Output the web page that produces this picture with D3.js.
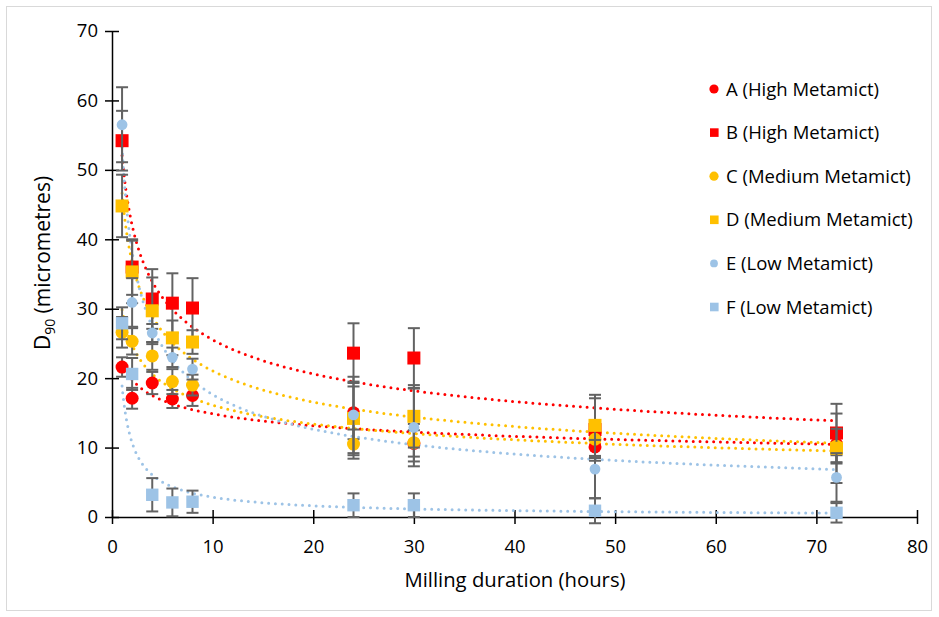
<!DOCTYPE html>
<html><head><meta charset="utf-8">
<script src="https://cdn.jsdelivr.net/npm/d3@7"></script>
<style>body{margin:0;background:#fff}svg{display:block}</style>
</head><body>
<svg id="c" width="939" height="617"></svg>
<script>
const hours = [1, 2, 4, 6, 8, 24, 30, 48, 72];
const seriesNames = ["A (High Metamict)", "B (High Metamict)", "C (Medium Metamict)", "D (Medium Metamict)", "E (Low Metamict)", "F (Low Metamict)"];
const valuesA = [21.6, 17.1, 19.3, 17.0, 17.5, 15.0, 10.6, 10.1, 10.5];
const valuesB = [54.2, 36.0, 31.4, 30.8, 30.1, 23.6, 22.9, 12.6, 12.1];
const valuesC = [26.6, 25.3, 23.2, 19.5, 19.0, 10.5, 10.7, 11.2, 10.2];
const valuesD = [44.8, 35.3, 29.7, 25.8, 25.2, 14.2, 14.5, 13.2, 9.9];
const valuesE = [56.5, 30.9, 26.5, 23.0, 21.3, 14.7, 12.9, 6.9, 5.7];
const valuesF = [27.9, 20.6, 3.2, 2.1, 2.2, 1.7, 1.7, 0.9, 0.6];
const errA = [1.4, 1.5, 1.6, 1.3, 1.5, 3.8, 1.9, 1.6, 1.6];
const errB = [4.3, 4.0, 4.3, 4.3, 4.3, 4.3, 4.3, 4.5, 4.2];
const errC = [2.2, 1.9, 2.0, 1.8, 1.5, 2.1, 2.7, 2.6, 2.5];
const errD = [4.5, 4.5, 4.8, 2.5, 1.7, 5.3, 4.5, 4.4, 5.0];
const errE = [5.4, 3.5, 1.3, 1.4, 1.5, 5.5, 5.6, 4.2, 3.5];
const errF = [2.3, 2.3, 2.4, 2.0, 1.6, 1.7, 1.7, 1.8, 1.4];
const xTicks = [0, 10, 20, 30, 40, 50, 60, 70, 80];
const yTicks = [0, 10, 20, 30, 40, 50, 60, 70];

const colors = ["#FF0000", "#FF0000", "#FFC000", "#FFC000", "#9DC3E6", "#9DC3E6"];
const shapes = ["circle", "square", "circle", "square", "circle", "square"];
const sizes = [6.5, 6.5, 6.5, 6.5, 5.4, 6.2];
const allValues = [valuesA, valuesB, valuesC, valuesD, valuesE, valuesF];
const allErr = [errA, errB, errC, errD, errE, errF];

const svg = d3.select("#c");
const font = "'Open Sans', 'Noto Sans', sans-serif";
svg.append("rect").attr("x", 6.5).attr("y", 6.5).attr("width", 925).attr("height", 604)
  .attr("fill", "#fff").attr("stroke", "#d9d9d9").attr("stroke-width", 1);

const x = d3.scaleLinear().domain([0, 80]).range([112, 917]);
const y = d3.scaleLinear().domain([0, 70]).range([517, 31]);

// axes
const gx = svg.append("g").attr("transform", "translate(0,517)")
  .call(d3.axisBottom(x).tickValues(xTicks).tickSizeInner(7).tickSizeOuter(0).tickPadding(16));
gx.selectAll(".tick line").attr("y1", -7);
const gy = svg.append("g").attr("transform", "translate(112,0)")
  .call(d3.axisLeft(y).tickValues(yTicks).tickSizeInner(7).tickSizeOuter(0).tickPadding(7));
gy.selectAll(".tick line").attr("x1", 7);
[gx, gy].forEach(g => {
  g.select(".domain").attr("stroke", "#000").attr("stroke-width", 1.5);
  g.selectAll(".tick line").attr("stroke", "#000").attr("stroke-width", 1.5);
  g.selectAll("text").attr("font-family", font).attr("font-size", 18.5).attr("fill", "#000");
});

// axis titles
svg.append("text").attr("x", 515).attr("y", 587).attr("text-anchor", "middle")
  .attr("font-family", font).attr("font-size", 20.3).text("Milling duration (hours)");
const yt = svg.append("text").attr("transform", "translate(50,263) rotate(-90)")
  .attr("text-anchor", "middle").attr("font-family", font).attr("font-size", 21);
yt.append("tspan").text("D");
yt.append("tspan").attr("font-size", 14).attr("dy", 5).text("90");
yt.append("tspan").attr("dy", -5).text(" (micrometres)");

// power trendlines (least squares in log-log space, as Excel does)
function powerFit(xs, ys) {
  const lx = xs.map(Math.log), ly = ys.map(Math.log);
  const n = xs.length, mx = d3.mean(lx), my = d3.mean(ly);
  let sxy = 0, sxx = 0;
  for (let i = 0; i < n; i++) { sxy += (lx[i] - mx) * (ly[i] - my); sxx += (lx[i] - mx) ** 2; }
  const b = sxy / sxx, a = Math.exp(my - b * mx);
  return t => a * Math.pow(t, b);
}
const samples = d3.range(0, 301).map(i => Math.pow(72, i / 300));
const line = d3.line().x(d => x(d[0])).y(d => y(d[1]));
allValues.forEach((vals, s) => {
  const f = powerFit(hours, vals);
  svg.append("path").attr("d", line(samples.map(t => [t, f(t)])))
    .attr("fill", "none").attr("stroke", colors[s]).attr("stroke-width", 3)
    .attr("stroke-linecap", "round").attr("stroke-dasharray", "0 6.8");
});

// series: error bars + markers
allValues.forEach((vals, s) => {
  const g = svg.append("g");
  vals.forEach((v, i) => {
    const cx = x(hours[i]), e = allErr[s][i];
    g.append("line").attr("x1", cx).attr("x2", cx).attr("y1", y(v - e)).attr("y2", y(v + e))
      .attr("stroke", "#636363").attr("stroke-width", 2);
    [v - e, v + e].forEach(c => g.append("line").attr("x1", cx - 6).attr("x2", cx + 6)
      .attr("y1", y(c)).attr("y2", y(c)).attr("stroke", "#636363").attr("stroke-width", 2));
  });
  vals.forEach((v, i) => {
    const cx = x(hours[i]), cy = y(v), r = sizes[s];
    if (shapes[s] === "circle") g.append("circle").attr("cx", cx).attr("cy", cy).attr("r", r).attr("fill", colors[s]);
    else g.append("rect").attr("x", cx - r).attr("y", cy - r).attr("width", 2 * r).attr("height", 2 * r).attr("fill", colors[s]);
  });
});

// legend
const lg = svg.append("g");
seriesNames.forEach((name, s) => {
  const ly = 89 + s * 43.6;
  const r = s === 4 ? 3.9 : 4.6;
  if (shapes[s] === "circle") lg.append("circle").attr("cx", 714).attr("cy", ly).attr("r", r).attr("fill", colors[s]);
  else lg.append("rect").attr("x", 710).attr("y", ly - 4.3).attr("width", 8.6).attr("height", 8.6).attr("fill", colors[s]);
  lg.append("text").attr("x", 726).attr("y", ly + 6.5).attr("font-family", font).attr("font-size", 18.5)
    .attr("fill", "#000").text(name);
});
</script>
</body></html>
